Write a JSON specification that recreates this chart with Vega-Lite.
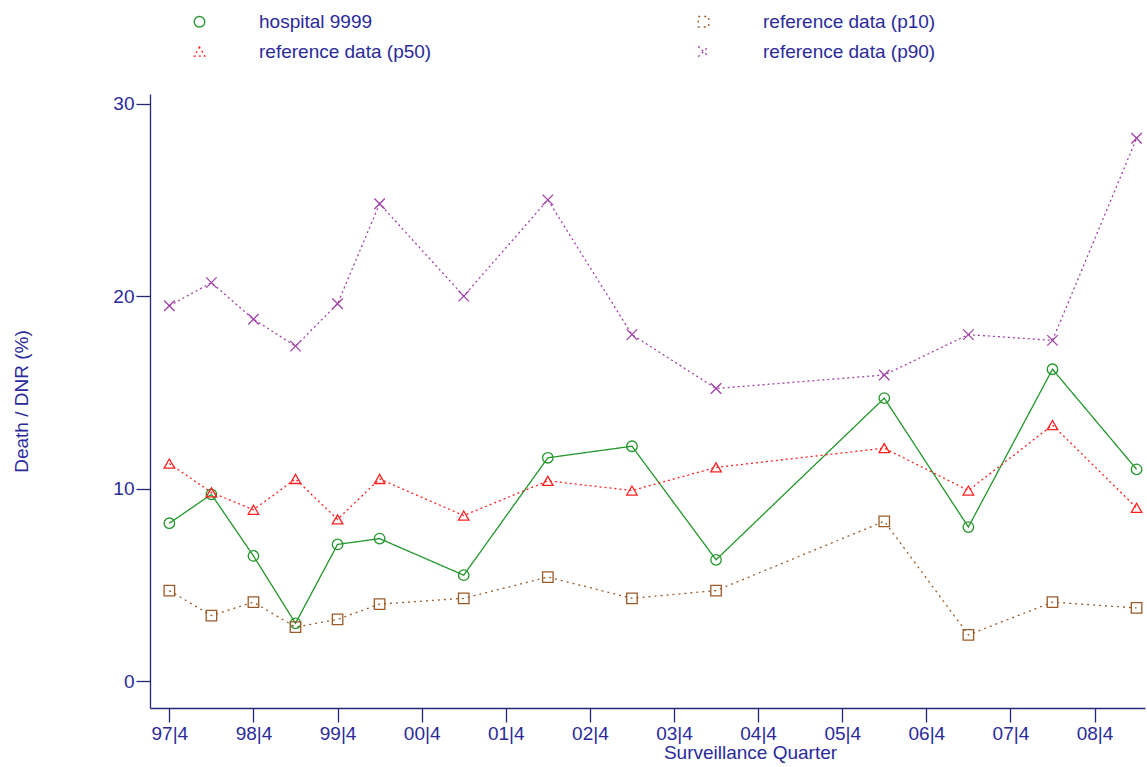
{
  "$schema": "https://vega.github.io/schema/vega-lite/v6.json",
  "width": 995,
  "height": 614,
  "autosize": {"type": "none"},
  "padding": {"left": 150, "top": 94, "right": 2, "bottom": 59},
  "background": "white",
  "data": {"values": [
    {"x":0,"s":"hospital 9999","v":8.2},{"x":0.5,"s":"hospital 9999","v":9.7},{"x":1,"s":"hospital 9999","v":6.5},{"x":1.5,"s":"hospital 9999","v":3.0},{"x":2,"s":"hospital 9999","v":7.1},{"x":2.5,"s":"hospital 9999","v":7.4},{"x":3.5,"s":"hospital 9999","v":5.5},{"x":4.5,"s":"hospital 9999","v":11.6},{"x":5.5,"s":"hospital 9999","v":12.2},{"x":6.5,"s":"hospital 9999","v":6.3},{"x":8.5,"s":"hospital 9999","v":14.7},{"x":9.5,"s":"hospital 9999","v":8.0},{"x":10.5,"s":"hospital 9999","v":16.2},{"x":11.5,"s":"hospital 9999","v":11.0},
    {"x":0,"s":"reference data (p10)","v":4.7},{"x":0.5,"s":"reference data (p10)","v":3.4},{"x":1,"s":"reference data (p10)","v":4.1},{"x":1.5,"s":"reference data (p10)","v":2.8},{"x":2,"s":"reference data (p10)","v":3.2},{"x":2.5,"s":"reference data (p10)","v":4.0},{"x":3.5,"s":"reference data (p10)","v":4.3},{"x":4.5,"s":"reference data (p10)","v":5.4},{"x":5.5,"s":"reference data (p10)","v":4.3},{"x":6.5,"s":"reference data (p10)","v":4.7},{"x":8.5,"s":"reference data (p10)","v":8.3},{"x":9.5,"s":"reference data (p10)","v":2.4},{"x":10.5,"s":"reference data (p10)","v":4.1},{"x":11.5,"s":"reference data (p10)","v":3.8},
    {"x":0,"s":"reference data (p50)","v":11.3},{"x":0.5,"s":"reference data (p50)","v":9.8},{"x":1,"s":"reference data (p50)","v":8.9},{"x":1.5,"s":"reference data (p50)","v":10.5},{"x":2,"s":"reference data (p50)","v":8.4},{"x":2.5,"s":"reference data (p50)","v":10.5},{"x":3.5,"s":"reference data (p50)","v":8.6},{"x":4.5,"s":"reference data (p50)","v":10.4},{"x":5.5,"s":"reference data (p50)","v":9.9},{"x":6.5,"s":"reference data (p50)","v":11.1},{"x":8.5,"s":"reference data (p50)","v":12.1},{"x":9.5,"s":"reference data (p50)","v":9.9},{"x":10.5,"s":"reference data (p50)","v":13.3},{"x":11.5,"s":"reference data (p50)","v":9.0},
    {"x":0,"s":"reference data (p90)","v":19.5},{"x":0.5,"s":"reference data (p90)","v":20.7},{"x":1,"s":"reference data (p90)","v":18.8},{"x":1.5,"s":"reference data (p90)","v":17.4},{"x":2,"s":"reference data (p90)","v":19.6},{"x":2.5,"s":"reference data (p90)","v":24.8},{"x":3.5,"s":"reference data (p90)","v":20.0},{"x":4.5,"s":"reference data (p90)","v":25.0},{"x":5.5,"s":"reference data (p90)","v":18.0},{"x":6.5,"s":"reference data (p90)","v":15.2},{"x":8.5,"s":"reference data (p90)","v":15.9},{"x":9.5,"s":"reference data (p90)","v":18.0},{"x":10.5,"s":"reference data (p90)","v":17.7},{"x":11.5,"s":"reference data (p90)","v":28.2}
  ]},
  "encoding": {
    "x": {"field": "x", "type": "quantitative", "title": "Surveillance Quarter",
      "scale": {"domain": [-0.23, 11.6], "nice": false, "zero": false},
      "axis": {"values": [0,1,2,3,4,5,6,7,8,9,10,11], "grid": false,
        "labelExpr": "(datum.value < 3 ? '9' + (7 + datum.value) : '0' + (datum.value - 3)) + '|4'",
        "titlePadding": 0, "titleX": 600}},
    "y": {"field": "v", "type": "quantitative", "title": "Death / DNR (%)",
      "scale": {"domain": [-1.4, 30.5], "nice": false, "zero": false},
      "axis": {"values": [0,10,20,30], "grid": false, "offset": 0, "titlePadding": 81}},
    "color": {"field": "s", "type": "nominal", "title": null,
      "scale": {"domain": ["hospital 9999","reference data (p50)","reference data (p10)","reference data (p90)"],
        "range": ["#22962a","#ff2020","#9c5a28","#a040a8"]},
      "legend": {"orient": "none", "legendX": -5, "legendY": -82, "columns": 2, "columnPadding": 217, "rowPadding": 10, "symbolSize": 110, "labelFontSize": 19, "symbolStrokeWidth": 1.3, "labelLimit": 400, "labelOffset": 50, "symbolFillColor": "white", "symbolOffset": 45,
        "encode": {"symbols": {"update": {"strokeDash": {"value": []}}}}}}
  },
  "layer": [
    {"mark": {"type": "line", "strokeWidth": 1.3},
      "encoding": {"strokeDash": {"field": "s", "type": "nominal", "legend": null,
        "scale": {"domain": ["hospital 9999","reference data (p50)","reference data (p10)","reference data (p90)"],
          "range": [[1,0],[2,3],[2,4],[2,3]]}}}},
    {"mark": {"type": "point", "filled": false, "size": 110, "strokeWidth": 1.3, "opacity": 1},
      "encoding": {"shape": {"field": "s", "type": "nominal",
        "scale": {"domain": ["hospital 9999","reference data (p50)","reference data (p10)","reference data (p90)"],
          "range": ["circle","triangle-up","square","M-1,-1L1,1M-1,1L1,-1"]}}}}
  ],
  "config": {
    "font": "Liberation Sans",
    "view": {"stroke": null},
    "axis": {"domainColor": "#26267a", "tickColor": "#26267a", "labelColor": "#2a2a9a", "titleColor": "#2a2a9a",
      "labelFontSize": 19, "titleFontSize": 19, "titleFontWeight": "normal", "tickSize": 14, "labelPadding": 2, "domainWidth": 1.3, "tickWidth": 1.3},
    "legend": {"labelColor": "#2a2a9a"}
  }
}
